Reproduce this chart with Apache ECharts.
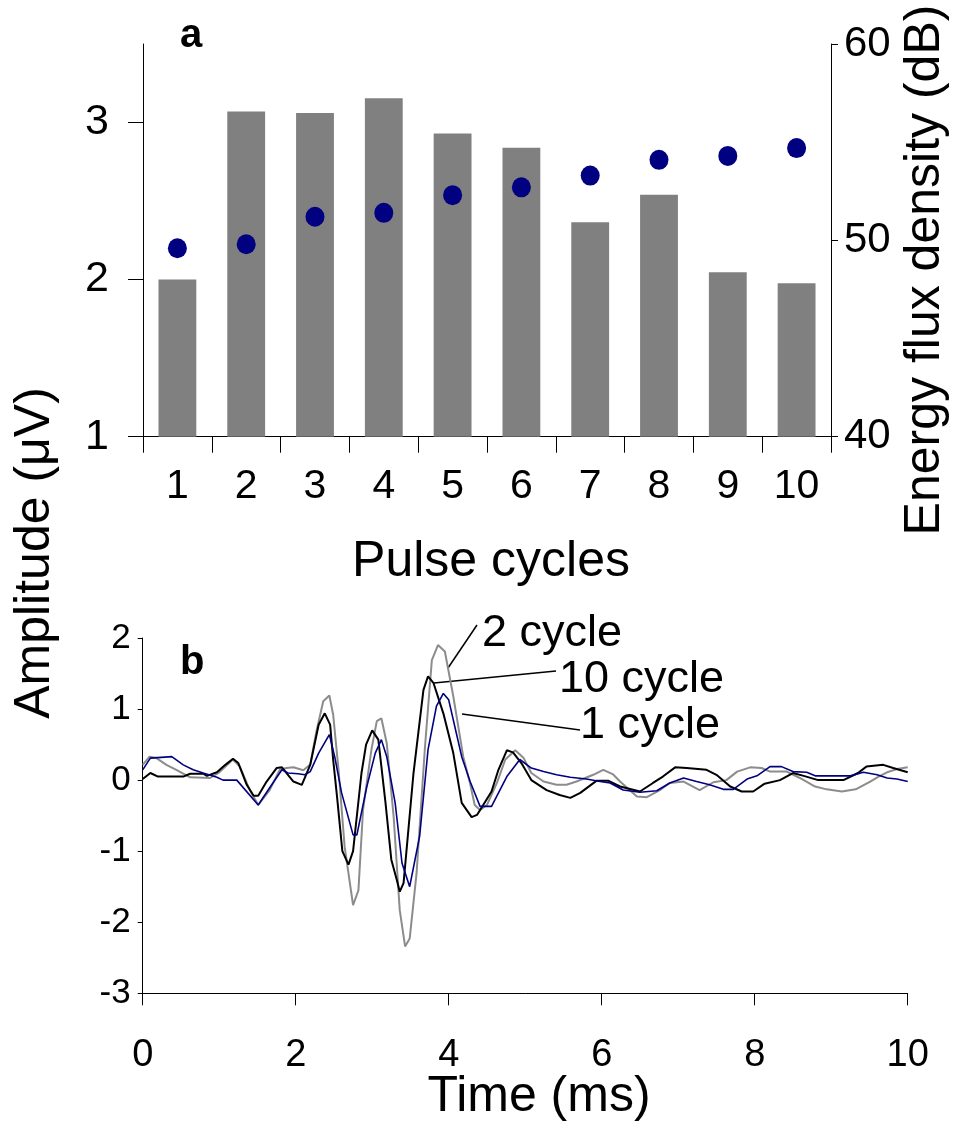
<!DOCTYPE html>
<html>
<head>
<meta charset="utf-8">
<script src="https://cdn.jsdelivr.net/npm/echarts@6/dist/echarts.min.js"></script>
<style>html,body{margin:0;padding:0;background:#fff;}#c{width:957px;height:1131px;}</style>
</head>
<body>
<div id="c"></div>
<script>
// ---- Panel a data ----
const pulseCycles = ['1','2','3','4','5','6','7','8','9','10'];
const amplitudeUV = [2.00, 3.07, 3.06, 3.155, 2.93, 2.84, 2.365, 2.54, 2.047, 1.977];
const energyDB = [49.6, 49.8, 51.2, 51.4, 52.3, 52.7, 53.3, 54.1, 54.3, 54.7];
const ampTicks = [1, 2, 3];

// ---- Panel b data (time ms, amplitude uV) ----
const t1 = [0,0.1,0.38,0.53,0.66,0.79,0.97,1.05,1.23,1.51,1.64,1.82,1.9,2.03,2.12,2.19,2.3,2.44,2.51,2.6,2.75,2.8,2.93,3.04,3.12,3.19,3.3,3.39,3.49,3.62,3.73,3.84,3.93,4.0,4.1,4.17,4.28,4.41,4.56,4.76,4.93,5.08,5.24,5.41,5.59,5.8,5.98,6.11,6.28,6.5,6.72,6.89,7.07,7.24,7.41,7.59,7.72,7.9,8.03,8.2,8.35,8.5,8.68,8.79,9.25,9.42,9.6,9.73,9.86,10];
const v1 = [0.145,0.31,0.33,0.215,0.145,0.1,0.04,0,0,-0.35,-0.14,0.145,0.1,0.09,0.075,0.12,0.38,0.64,0.33,-0.18,-0.77,-0.77,-0.09,0.38,0.57,0.33,-0.32,-1.17,-1.5,-0.79,0.43,1.04,1.22,1.13,0.66,0.33,-0.02,-0.37,-0.37,0.05,0.29,0.17,0.12,0.075,0.04,0.015,-0.02,-0.04,-0.14,-0.17,-0.15,-0.04,0.03,-0.02,-0.066,-0.13,-0.13,0.015,0.06,0.19,0.19,0.12,0.11,0.06,0.06,0.11,0.075,0.03,0.015,-0.02];

const t2 = [0,0.09,0.18,0.31,0.44,0.62,0.88,0.99,1.18,1.27,1.4,1.51,1.66,1.79,1.88,1.97,2.1,2.19,2.27,2.36,2.44,2.49,2.56,2.64,2.75,2.82,2.88,2.99,3.06,3.12,3.19,3.28,3.36,3.43,3.49,3.58,3.69,3.78,3.86,3.95,4.06,4.19,4.28,4.34,4.41,4.5,4.63,4.74,4.87,4.98,5.08,5.24,5.41,5.54,5.67,5.89,6.02,6.15,6.24,6.46,6.59,6.76,6.89,7.07,7.28,7.46,7.63,7.77,7.94,8.09,8.2,8.42,8.59,8.79,8.94,9.14,9.32,9.51,9.62,9.73,9.86,10];
const v2 = [0.215,0.33,0.31,0.215,0.145,0.04,0.03,0.1,0.29,0.19,-0.14,-0.35,-0.14,0.145,0.17,0.18,0.14,0.22,0.68,1.11,1.19,0.92,0.145,-0.94,-1.76,-1.55,-0.42,0.43,0.83,0.87,0.52,-0.51,-1.83,-2.34,-2.23,-1.31,0.47,1.69,1.9,1.81,1.18,0.33,-0.05,-0.35,-0.42,-0.35,-0.04,0.29,0.42,0.31,0.1,-0.02,-0.066,-0.066,-0.02,0.075,0.145,0.08,-0.02,-0.23,-0.24,-0.14,-0.04,-0.02,-0.14,-0.03,0,0.12,0.18,0.17,0.12,0.12,0.03,-0.09,-0.13,-0.16,-0.13,-0.02,0.05,0.11,0.155,0.18];

const t10 = [0,0.1,0.2,0.53,0.62,0.79,0.84,0.97,1.08,1.18,1.25,1.36,1.45,1.51,1.62,1.75,1.82,1.97,2.08,2.19,2.3,2.38,2.45,2.49,2.54,2.61,2.69,2.75,2.86,2.92,3.0,3.08,3.17,3.25,3.32,3.36,3.41,3.54,3.67,3.73,3.8,3.93,4.06,4.17,4.3,4.37,4.56,4.65,4.76,4.84,4.95,5.08,5.28,5.45,5.59,5.72,5.93,6.09,6.24,6.5,6.67,6.8,6.96,7.11,7.37,7.5,7.68,7.83,7.98,8.13,8.33,8.5,8.64,8.83,9.16,9.35,9.46,9.68,9.81,10];
const v10 = [0.015,0.1,0.05,0.05,0.09,0.09,0.06,0.11,0.215,0.3,0.24,-0.066,-0.22,-0.22,-0.02,0.17,0.18,-0.02,-0.066,0.215,0.78,0.94,0.78,0.286,-0.23,-1.0,-1.19,-1.0,0.1,0.5,0.7,0.57,-0.28,-1.12,-1.4,-1.57,-1.45,0.1,1.27,1.46,1.37,0.94,0.38,-0.32,-0.52,-0.49,-0.16,0.145,0.42,0.39,0.24,0,-0.14,-0.21,-0.25,-0.18,-0.01,-0.01,-0.09,-0.16,-0.04,0.05,0.18,0.17,0.145,0.075,-0.09,-0.16,-0.16,-0.05,0,0.1,0.06,0,0,0.1,0.19,0.215,0.17,0.11];

const seriesLabels = ['1 cycle', '2 cycle', '10 cycle'];

function zip(a, b) { return a.map((x, i) => [x, b[i]]); }

const FONT = 'Liberation Sans, Arial, sans-serif';
const axisLineStyle = { color: '#000', width: 1 };

const chart = echarts.init(document.getElementById('c'), null, { renderer: 'canvas' });

const option = {
  backgroundColor: '#fff',
  animation: false,
  grid: [
    { left: 143, right: 126, top: 44, height: 392.7, containLabel: false, outerBoundsMode: 'none' },
    { left: 142.7, right: 49.3, top: 638, height: 355.3, containLabel: false, outerBoundsMode: 'none' }
  ],
  xAxis: [
    {
      type: 'category', gridIndex: 0, data: pulseCycles, boundaryGap: true,
      axisLine: { lineStyle: axisLineStyle },
      axisTick: { show: true, length: 16, lineStyle: { color: '#000' } },
      axisLabel: { color: '#000', fontSize: 41, fontFamily: FONT, margin: 29 },
      splitLine: { show: false }
    },
    {
      type: 'value', gridIndex: 1, min: 0, max: 10, interval: 2,
      axisLine: { onZero: false, lineStyle: axisLineStyle },
      axisTick: { show: true, length: 12, lineStyle: { color: '#000' } },
      axisLabel: { color: '#000', fontSize: 38, fontFamily: FONT, margin: 43 },
      splitLine: { show: false }
    }
  ],
  yAxis: [
    {
      type: 'value', gridIndex: 0, min: 1, max: 3.5, position: 'left',
      axisLine: { show: true, lineStyle: axisLineStyle },
      axisTick: { show: true, length: 15, customValues: ampTicks, lineStyle: { color: '#000' } },
      axisLabel: { color: '#000', fontSize: 43, fontFamily: FONT, margin: 34, customValues: ampTicks },
      splitLine: { show: false }
    },
    {
      type: 'value', gridIndex: 0, min: 40, max: 60, interval: 10, position: 'right',
      axisLine: { show: true, lineStyle: axisLineStyle },
      axisTick: { show: true, length: 7, lineStyle: { color: '#000' } },
      axisLabel: { color: '#000', fontSize: 42, fontFamily: FONT, margin: 13 },
      splitLine: { show: false }
    },
    {
      type: 'value', gridIndex: 1, min: -3, max: 2, interval: 1,
      axisLine: { show: true, onZero: false, lineStyle: axisLineStyle },
      axisTick: { show: true, length: 5, lineStyle: { color: '#000' } },
      axisLabel: { color: '#000', fontSize: 35, fontFamily: FONT, margin: 12 },
      splitLine: { show: false }
    }
  ],
  series: [
    {
      type: 'bar', xAxisIndex: 0, yAxisIndex: 0, data: amplitudeUV,
      barWidth: '55%', itemStyle: { color: '#808080' }, silent: true
    },
    {
      type: 'scatter', xAxisIndex: 0, yAxisIndex: 1, data: energyDB,
      symbol: 'circle', symbolSize: [19, 20], itemStyle: { color: '#000080', opacity: 1 }, silent: true
    },
    {
      name: seriesLabels[2], type: 'line', xAxisIndex: 1, yAxisIndex: 2, data: zip(t10, v10),
      showSymbol: false, lineStyle: { color: '#000000', width: 2 }, silent: true
    },
    {
      name: seriesLabels[1], type: 'line', xAxisIndex: 1, yAxisIndex: 2, data: zip(t2, v2),
      showSymbol: false, lineStyle: { color: '#8c8c8c', width: 2 }, silent: true, z: 1
    },
    {
      name: seriesLabels[0], type: 'line', xAxisIndex: 1, yAxisIndex: 2, data: zip(t1, v1),
      showSymbol: false, lineStyle: { color: '#000080', width: 1.6 }, silent: true, z: 3
    }
  ],
  graphic: [
    { type: 'text', left: 180, top: 16, style: { text: 'a', fontSize: 40, fontWeight: 'bold', fontFamily: FONT, fill: '#000' } },
    { type: 'text', left: 180, top: 643, style: { text: 'b', fontSize: 40, fontWeight: 'bold', fontFamily: FONT, fill: '#000' } },
    { type: 'text', x: 491, y: 562, style: { text: 'Pulse cycles', fontSize: 50, fontFamily: FONT, fill: '#000', align: 'center', verticalAlign: 'middle' } },
    { type: 'text', x: 539, y: 1097, style: { text: 'Time (ms)', fontSize: 50, fontFamily: FONT, fill: '#000', align: 'center', verticalAlign: 'middle' } },
    { type: 'text', x: 35, y: 553, rotation: Math.PI / 2, style: { text: 'Amplitude (\u03bcV)', fontSize: 50, fontFamily: FONT, fill: '#000', align: 'center', verticalAlign: 'middle' } },
    { type: 'text', x: 925, y: 270, rotation: Math.PI / 2, style: { text: 'Energy flux density (dB)', fontSize: 50, fontFamily: FONT, fill: '#000', align: 'center', verticalAlign: 'middle' } },
    { type: 'line', shape: { x1: 448, y1: 668, x2: 477, y2: 625 }, style: { stroke: '#000', lineWidth: 1.5 } },
    { type: 'line', shape: { x1: 434, y1: 683, x2: 556, y2: 671 }, style: { stroke: '#000', lineWidth: 1.5 } },
    { type: 'line', shape: { x1: 462, y1: 714, x2: 580, y2: 730 }, style: { stroke: '#000', lineWidth: 1.5 } },
    { type: 'text', x: 482, y: 634, style: { text: seriesLabels[1], fontSize: 45, fontFamily: FONT, fill: '#000', align: 'left', verticalAlign: 'middle' } },
    { type: 'text', x: 559, y: 680, style: { text: seriesLabels[2], fontSize: 45, fontFamily: FONT, fill: '#000', align: 'left', verticalAlign: 'middle' } },
    { type: 'text', x: 580, y: 726, style: { text: seriesLabels[0], fontSize: 45, fontFamily: FONT, fill: '#000', align: 'left', verticalAlign: 'middle' } }
  ]
};
chart.setOption(option);
</script>
</body>
</html>
